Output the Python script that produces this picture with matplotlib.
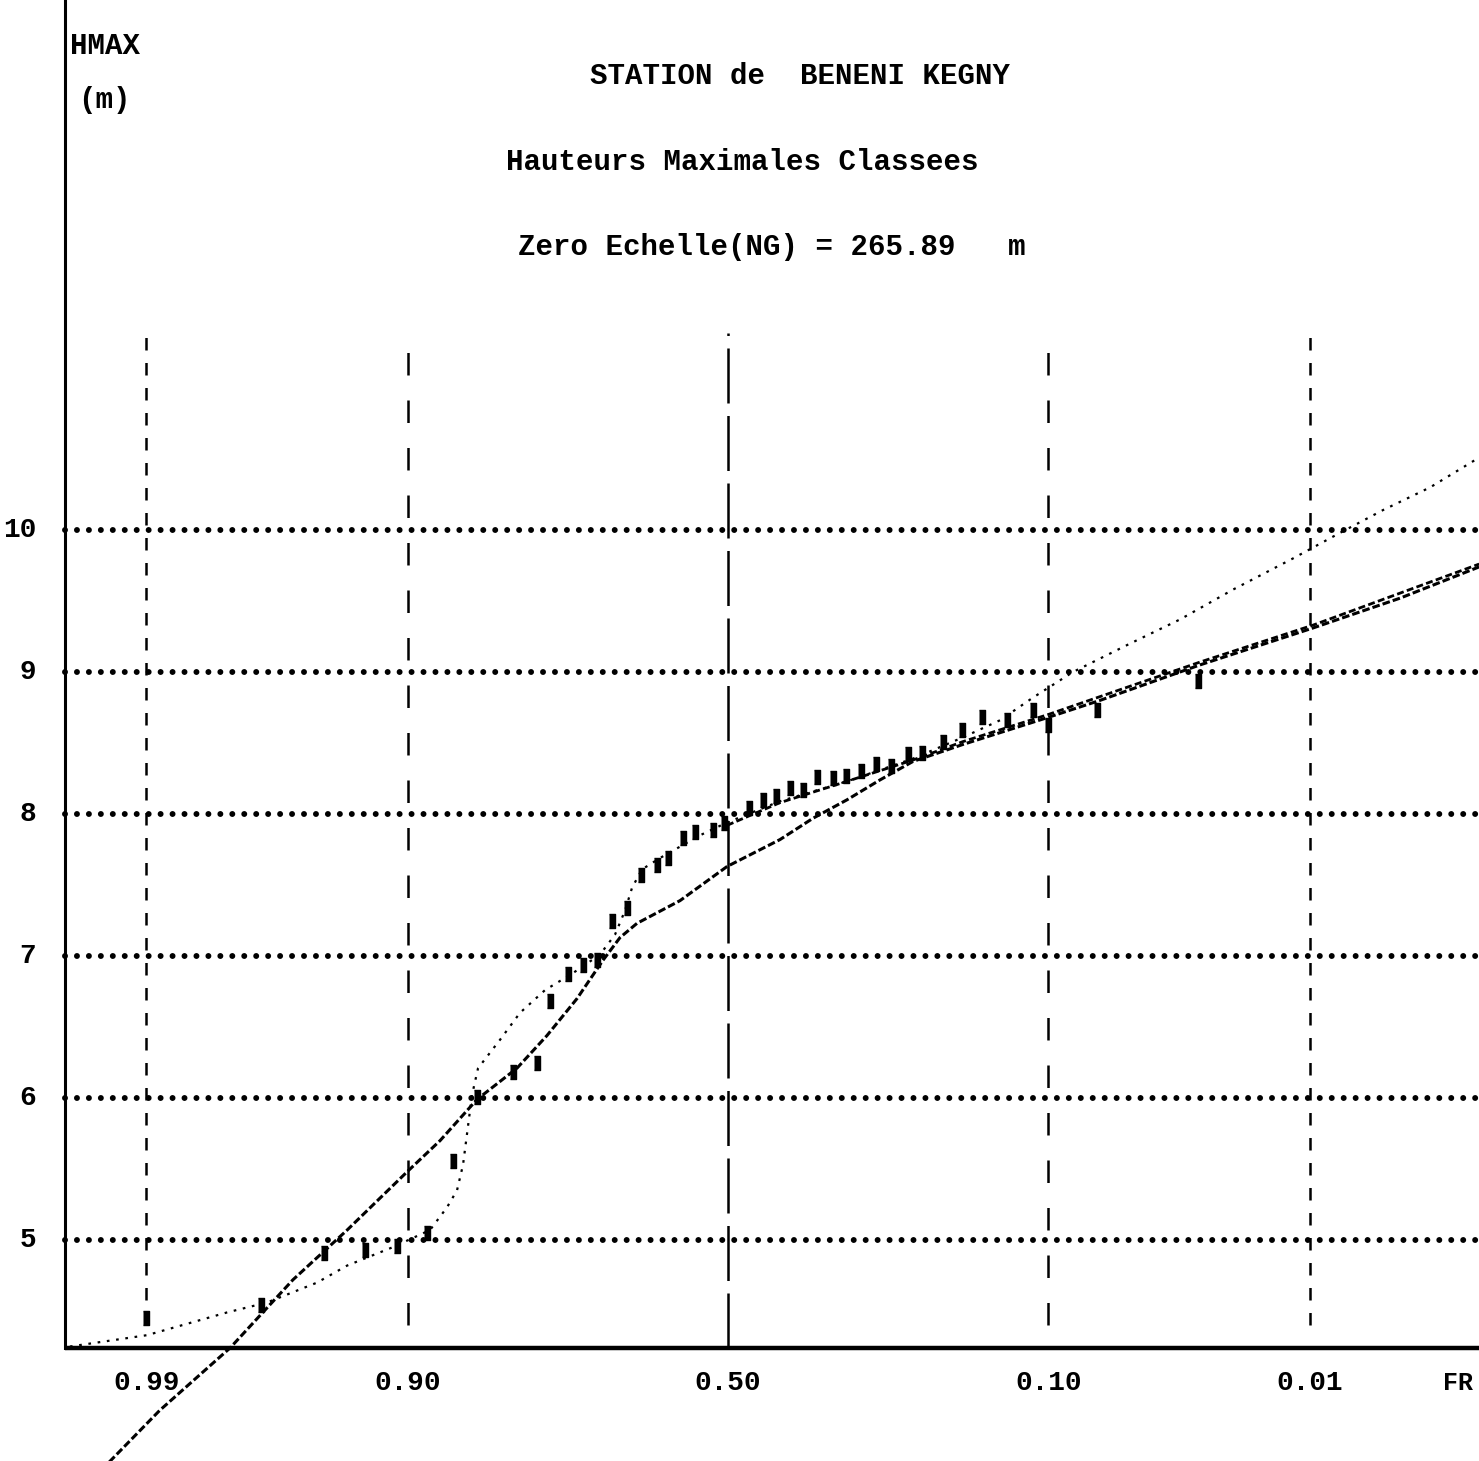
import matplotlib
matplotlib.use("Agg")
import matplotlib.pyplot as plt
from statistics import NormalDist

# ---------------- data ----------------
# exceedance frequencies (x) and maximal heights HMAX in m (y)
obs_freq = [0.990, 0.969, 0.947, 0.927, 0.907, 0.886, 0.864, 0.842, 0.805, 0.778,
            0.762, 0.739, 0.719, 0.700, 0.679, 0.657, 0.636, 0.612, 0.595, 0.571,
            0.553, 0.524, 0.506, 0.467, 0.444, 0.424, 0.402, 0.382, 0.361, 0.337,
            0.318, 0.297, 0.277, 0.257, 0.236, 0.219, 0.195, 0.175, 0.155, 0.132,
            0.111, 0.100, 0.070, 0.030]
obs_h = [4.45, 4.54, 4.91, 4.93, 4.96, 5.05, 5.56, 6.01, 6.18, 6.25,
         6.68, 6.87, 6.94, 6.97, 7.25, 7.34, 7.57, 7.64, 7.69, 7.83,
         7.87, 7.89, 7.94, 8.04, 8.10, 8.13, 8.18, 8.17, 8.26, 8.25,
         8.27, 8.30, 8.35, 8.34, 8.42, 8.43, 8.51, 8.59, 8.68, 8.66,
         8.73, 8.63, 8.73, 8.94]

fit1_freq = [0.9940, 0.9885, 0.9768, 0.9591, 0.9362, 0.9004, 0.8753, 0.8423, 0.8007,
             0.7655, 0.7271, 0.6915, 0.6671, 0.6421, 0.5761, 0.5016, 0.4176, 0.3669,
             0.3170, 0.2716, 0.2297, 0.1736, 0.1003, 0.0684, 0.0295, 0.00964,
             0.00359, 0.00133]
fit1_h = [3.37, 3.80, 4.24, 4.72, 5.07, 5.48, 5.70, 5.99, 6.21,
          6.44, 6.70, 6.97, 7.13, 7.23, 7.39, 7.63, 7.82, 7.97,
          8.10, 8.24, 8.37, 8.49, 8.68, 8.80, 9.05, 9.31,
          9.52, 9.74]

emp_freq = [0.99576, 0.98994, 0.97747, 0.96741, 0.94992, 0.9362, 0.9099, 0.8834,
            0.8695, 0.8608, 0.8554, 0.8517, 0.8471, 0.8413, 0.8191, 0.7973, 0.7679,
            0.7324, 0.6957, 0.6744, 0.6598, 0.6495, 0.6346, 0.6072, 0.5446, 0.5016,
            0.4176, 0.3170, 0.2297, 0.1736, 0.1383, 0.1112, 0.0838, 0.0539, 0.0353,
            0.0217, 0.0119, 0.00718, 0.00440, 0.00249, 0.00133]
emp_h = [4.25, 4.33, 4.49, 4.56, 4.70, 4.82, 4.95, 5.07,
         5.23, 5.35, 5.53, 5.75, 6.02, 6.21, 6.41, 6.60, 6.76,
         6.88, 7.01, 7.15, 7.32, 7.48, 7.61, 7.69, 7.85, 7.94,
         8.09, 8.23, 8.39, 8.54, 8.66, 8.82, 9.00, 9.20, 9.37,
         9.58, 9.80, 9.98, 10.14, 10.30, 10.51]

fit2_freq = [0.5016, 0.4176, 0.3170, 0.2297, 0.1736, 0.1003, 0.0295, 0.00964, 0.00133]
fit2_h = [7.92, 8.08, 8.23, 8.38, 8.51, 8.70, 9.07, 9.33, 9.76]

freq_ticks = [0.99, 0.90, 0.50, 0.10, 0.01]
freq_labels = ["0.99", "0.90", "0.50", "0.10", "0.01"]
h_ticks = [5, 6, 7, 8, 9, 10]

title1 = "STATION de  BENENI KEGNY"
title2 = "Hauteurs Maximales Classees"
title3 = "Zero Echelle(NG) = 265.89   m"

# ---------------- scale: normal probability paper ----------------
nd = NormalDist()
def u(p):
    return nd.inv_cdf(1.0 - p)

def U(ps):
    return [u(p) for p in ps]

FONT = ["Liberation Mono", "DejaVu Sans Mono", "DejaVu Sans"]

fig = plt.figure(figsize=(14.79, 14.61), dpi=100)
ax = fig.add_axes([0, 0, 1, 1])
ax.set_axis_off()
ax.set_xlim(-2.912, 3.004)
ax.set_ylim(3.444, 13.732)

x_axis_h = 4.24
left_u = -2.652

# horizontal dotted grid
for h in h_ticks:
    ax.plot([left_u, 3.1], [h, h], color="black", lw=4.3,
            linestyle=(0, (0.001, 2.0)), dash_capstyle="round", zorder=2)
    ax.text(-2.768, h, str(h), fontsize=20, family=FONT, weight="bold",
            ha="right", va="center")

# vertical dashed grid
vstyles = {0.99: (0, (5, 5)), 0.90: (0, (9, 10)), 0.50: (0, (22, 5)),
           0.10: (0, (9, 10)), 0.01: (0, (5, 5))}
vtop = {0.99: 11.39, 0.90: 11.30, 0.50: 11.39, 0.10: 11.30, 0.01: 11.39}
for p, lab in zip(freq_ticks, freq_labels):
    xb = u(p)
    ybot = x_axis_h if p == 0.50 else 4.40
    ax.plot([xb, xb], [ybot, vtop[p]], color="black", lw=1.8,
            linestyle=vstyles[p], zorder=2)
    ax.text(xb, 3.99, lab, fontsize=20, family=FONT, weight="bold",
            ha="center", va="center")
ax.text(2.86, 3.99, "FR", fontsize=18, family=FONT, weight="bold",
        ha="left", va="center")

# axes lines
ax.plot([left_u, 3.1], [x_axis_h, x_axis_h], color="black", lw=3.2,
        solid_capstyle="butt", zorder=3)
ax.plot([left_u, left_u], [x_axis_h, 13.8], color="black", lw=2.2, zorder=3)

# curves
ax.plot(U(fit1_freq), fit1_h, color="black", lw=2.2, linestyle=(0, (2.5, 1.0)), zorder=4)
ax.plot(U(fit2_freq), fit2_h, color="black", lw=2.0, linestyle=(0, (2.5, 1.2)), zorder=4)
ax.plot(U(emp_freq), emp_h, color="black", lw=1.6, linestyle=(0, (1.2, 3)), zorder=4)

# observations (vertical bars)
bar = [(-0.22, -0.5), (0.22, -0.5), (0.22, 0.5), (-0.22, 0.5)]
ax.plot(U(obs_freq), obs_h, linestyle="none", marker=bar, markersize=10,
        color="black", zorder=5)

# labels & titles
ax.text(-2.63, 13.41, "HMAX", fontsize=21, family=FONT, weight="bold",
        ha="left", va="center")
ax.text(-2.60, 13.03, "(m)", fontsize=21, family=FONT, weight="bold",
        ha="left", va="center")
ax.text(0.29, 13.20, title1, fontsize=21, family=FONT, weight="bold",
        ha="center", va="center")
ax.text(0.056, 12.59, title2, fontsize=21, family=FONT, weight="bold",
        ha="center", va="center")
ax.text(0.176, 11.99, title3, fontsize=21, family=FONT, weight="bold",
        ha="center", va="center")

fig.savefig("out.png", dpi=100, facecolor="white")
